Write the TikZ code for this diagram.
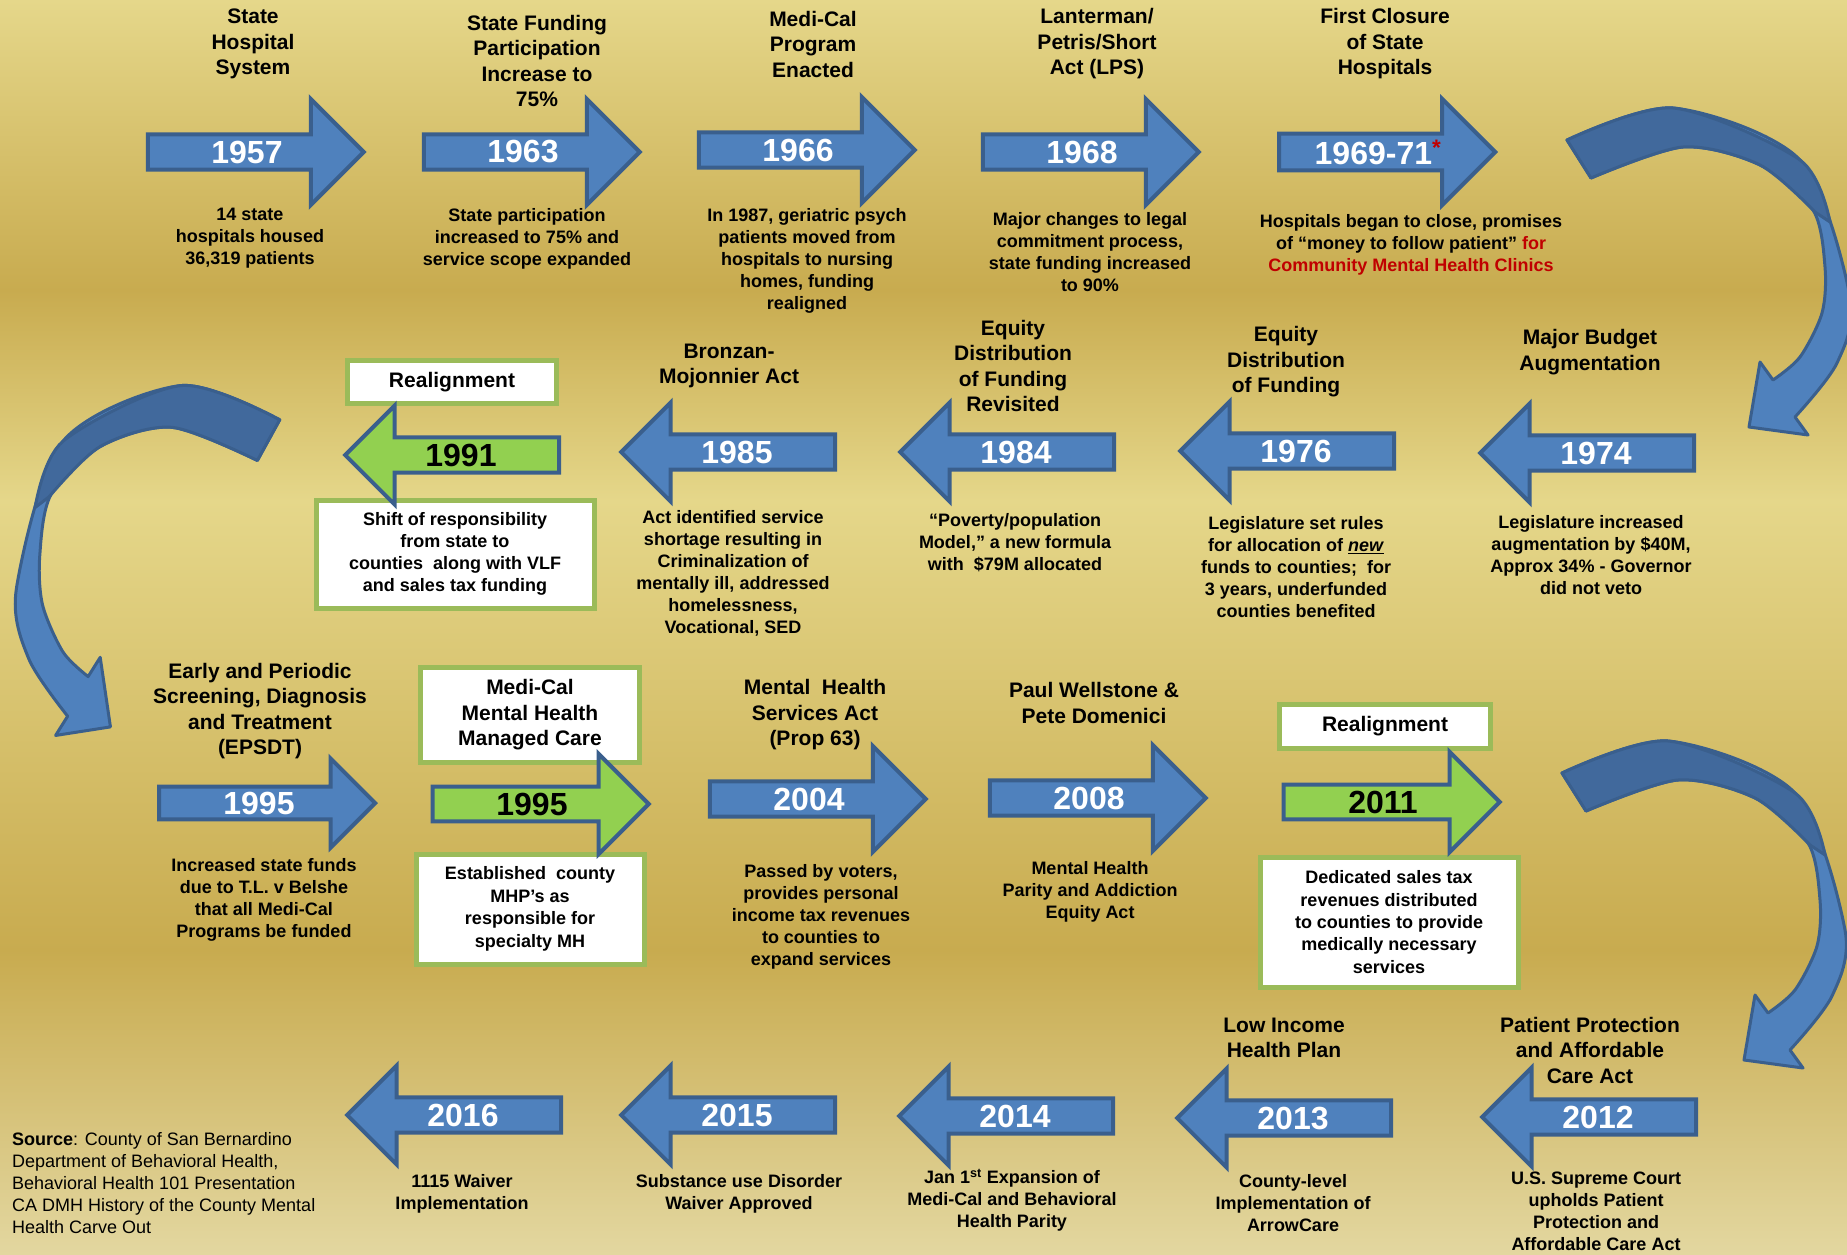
\documentclass[tikz,border=0pt]{standalone}
\usepackage{fontspec}
\setmainfont{Liberation Sans}
\usetikzlibrary{shapes.arrows}

\definecolor{bglight}{HTML}{E5D78A}
\definecolor{bgdark}{HTML}{C8AB4F}
\definecolor{bgfoot}{HTML}{E3D7A0}
\definecolor{arrowblue}{HTML}{4F81BD}
\definecolor{arrowdark}{HTML}{41699C}
\definecolor{arrowline}{HTML}{3A5F8D}
\definecolor{arrowgreen}{HTML}{92D050}
\definecolor{boxline}{HTML}{9BBB59}
\definecolor{notered}{HTML}{C00000}

\tikzset{
  yr/.style={single arrow, single arrow tip angle=90, single arrow head indent=0pt,
    inner sep=0pt, minimum height=216pt, minimum width=106pt,
    single arrow head extend=27pt, draw=arrowline, line width=4pt,
    fill=arrowblue, text=white, font=\fontsize{32}{36}\selectfont\bfseries},
  yrleft/.style={yr, shape border rotate=180, minimum height=214pt,
    minimum width=99pt, single arrow head extend=24pt},
  grn/.style={fill=arrowgreen, text=black},
  ttl/.style={align=center, inner sep=0pt, font=\fontsize{21}{25.5}\selectfont\bfseries},
  dsc/.style={align=center, inner sep=0pt, font=\fontsize{18}{22}\selectfont\bfseries},
  gbox/.style={draw=boxline, line width=5pt, fill=white, inner sep=0pt, align=center},
  loopband/.style={draw=arrowline, line width=3pt, fill=arrowblue, line join=round},
  loopback/.style={loopband, fill=arrowdark},
  pics/turnarrow/.style={code={
    \filldraw[loopband] plot[smooth] coordinates {(1567,140) (1673,108) (1800,160) (1850,297) (1837,363) (1795,417)}
      -- (1808,435) -- (1749,427) -- (1760,362) -- (1773,380)
      -- plot[smooth] coordinates {(1773,380) (1800,357) (1822,313) (1825,267) (1813,210) (1760,165) (1683,147) (1591,178)} -- cycle;
    \filldraw[loopback] plot[smooth] coordinates {(1567,140) (1673,108) (1800,160) (1830,222)}
      -- plot[smooth] coordinates {(1815,212) (1760,165) (1683,147) (1591,178)} -- cycle;
  }},
}

\begin{document}
\begin{tikzpicture}[x=1pt, y=-1pt]
  \useasboundingbox (0,0) rectangle (1847,1255);
  \clip (0,0) rectangle (1847,1255);

  % background bands
  \shade[top color=bglight, bottom color=bgdark] (0,0) rectangle (1847,291);
  \shade[top color=bgdark, bottom color=bglight] (0,290) rectangle (1847,501);
  \shade[top color=bglight, bottom color=bgdark] (0,500) rectangle (1847,951);
  \shade[top color=bgdark, bottom color=bgfoot] (0,950) rectangle (1847,1255);

  % turns between the rows
  \pic at (0,0) {turnarrow};
  \pic[shift={(1737,270)}, xscale=-0.93, yscale=1.07] at (0,0) {turnarrow};
  \pic[shift={(-5,633)}] at (0,0) {turnarrow};

  % row 1
  \node[yr] (a1957) at (247,152) {1957};
  \node[yr] (a1963) at (523,152) {1963};
  \node[yr] (a1966) at (798,150) {1966};
  \node[yr] (a1968) at (1082,152) {1968};
  \node[yr] (a1969) at (1378,152) {1969-71\textsuperscript{\textcolor{notered}{*}}};

  \node[ttl] (t1957) at (253,44) {State\\Hospital\\System};
  \node[ttl] (t1963) at (537,61) {State Funding\\Participation\\Increase to\\75\%};
  \node[ttl] (t1966) at (813,44) {Medi-Cal\\Program\\Enacted};
  \node[ttl] (t1968) at (1097,44) {Lanterman/\\Petris/Short\\Act (LPS)};
  \node[ttl] (t1969) at (1385,44) {First Closure\\of State\\Hospitals};

  \node[dsc] (d1957) at (250,238) {14 state\\hospitals housed\\36,319 patients};
  \node[dsc] (d1963) at (527,239) {State participation\\increased to 75\% and\\service scope expanded};
  \node[dsc] (d1966) at (807,261) {In 1987, geriatric psych\\patients moved from\\hospitals to nursing\\homes, funding\\realigned};
  \node[dsc] (d1968) at (1090,252) {Major changes to legal\\commitment process,\\state funding increased\\to 90\%};
  \node[dsc] (d1969) at (1411,245) {Hospitals began to close, promises\\of “money to follow patient” \textcolor{notered}{for}\\\textcolor{notered}{Community Mental Health Clinics}};

  % row 2
  \node[gbox, minimum width=209pt, minimum height=43pt, font=\fontsize{21}{25.5}\selectfont\bfseries] (r1991) at (452,382) {Realignment};
  \node[gbox, minimum width=278pt, minimum height=108pt, font=\fontsize{18}{22}\selectfont\bfseries] (b1991) at (455,554) {Shift of responsibility\\from state to\\counties~ along with VLF\\and sales tax funding};
  \node[yrleft, grn] (a1991) at (461,455) {1991};
  \node[yrleft] (a1985) at (737,452) {1985};
  \node[yrleft] (a1984) at (1016,452) {1984};
  \node[yrleft] (a1976) at (1296,451) {1976};
  \node[yrleft] (a1974) at (1596,453) {1974};

  \node[ttl] (t1985) at (729,366) {Bronzan-\\Mojonnier Act};
  \node[ttl] (t1984) at (1013,366) {Equity\\Distribution\\of Funding\\Revisited};
  \node[ttl] (t1976) at (1286,362) {Equity\\Distribution\\of Funding};
  \node[ttl] (t1974) at (1590,352) {Major Budget\\Augmentation};

  \node[dsc] (d1985) at (733,573) {Act identified service\\shortage resulting in\\Criminalization of\\mentally ill, addressed\\homelessness,\\Vocational, SED};
  \node[dsc] (d1984) at (1015,543) {“Poverty/population\\Model,” a new formula\\with~ \$79M allocated};
  \node[dsc] (d1976) at (1296,567) {Legislature set rules\\for allocation of \underline{\textit{new}}\\funds to counties;~ for\\3 years, underfunded\\counties benefited};
  \node[dsc] (d1974) at (1591,555) {Legislature increased\\augmentation by \$40M,\\Approx 34\% - Governor\\did not veto};

  % row 3
  \node[gbox, minimum width=219pt, minimum height=95pt, font=\fontsize{21}{25.5}\selectfont\bfseries] (m1995) at (530,715) {Medi-Cal\\Mental Health\\Managed Care};
  \node[gbox, minimum width=228pt, minimum height=110pt, font=\fontsize{18}{22.5}\selectfont\bfseries] (b1995) at (530,909) {Established~ county\\MHP’s as\\responsible for\\specialty MH};
  \node[gbox, minimum width=211pt, minimum height=44pt, font=\fontsize{21}{25.5}\selectfont\bfseries] (r2011) at (1385,726) {Realignment};
  \node[gbox, minimum width=258pt, minimum height=130pt, font=\fontsize{18}{22.3}\selectfont\bfseries] (b2011) at (1389,922) {Dedicated sales tax\\revenues distributed\\to counties to provide\\medically necessary\\services};

  \node[yr, minimum width=89pt, single arrow head extend=23pt] (a1995) at (259,803) {1995};
  \node[yr, grn, minimum width=100pt, single arrow head extend=25pt] (a1995g) at (532,804) {1995};
  \node[yr] (a2004) at (809,799) {2004};
  \node[yr] (a2008) at (1089,798) {2008};
  \node[yr, grn, minimum width=100pt, single arrow head extend=25pt] (a2011) at (1383,802) {2011};

  \node[ttl] (t1995) at (260,711) {Early and Periodic\\Screening, Diagnosis\\and Treatment\\(EPSDT)};
  \node[ttl] (t2004) at (815,715) {Mental~ Health\\Services Act\\(Prop 63)};
  \node[ttl] (t2008) at (1094,703) {Paul Wellstone \&\\Pete Domenici};

  \node[dsc] (d1995) at (264,900) {Increased state funds\\due to T.L. v Belshe\\that all Medi-Cal\\Programs be funded};
  \node[dsc] (d2004) at (821,917) {Passed by voters,\\provides personal\\income tax revenues\\to counties to\\expand services};
  \node[dsc] (d2008) at (1090,892) {Mental Health\\Parity and Addiction\\Equity Act};

  % row 4
  \node[yrleft] (a2016) at (463,1115) {2016};
  \node[yrleft] (a2015) at (737,1115) {2015};
  \node[yrleft] (a2014) at (1015,1116) {2014};
  \node[yrleft] (a2013) at (1293,1118) {2013};
  \node[yrleft] (a2012) at (1598,1117) {2012};

  \node[ttl] (t2013) at (1284,1038) {Low Income\\Health Plan};
  \node[ttl] (t2012) at (1590,1050) {Patient Protection\\and Affordable\\Care Act};

  \node[dsc] (d2016) at (462,1194) {1115 Waiver\\Implementation};
  \node[dsc] (d2015) at (739,1194) {Substance use Disorder\\Waiver Approved};
  \node[dsc] (d2014) at (1012,1200) {Jan 1\textsuperscript{st} Expansion of\\Medi-Cal and Behavioral\\Health Parity};
  \node[dsc] (d2013) at (1293,1203) {County-level\\Implementation of\\ArrowCare};
  \node[dsc] (d2012) at (1596,1211) {U.S. Supreme Court\\upholds Patient\\Protection and\\Affordable Care Act};

  \node[anchor=west, align=left, inner sep=0pt, font=\fontsize{18}{22}\selectfont] (src) at (12,1183) {\textbf{Source}: County of San Bernardino\\Department of Behavioral Health,\\Behavioral Health 101 Presentation\\CA DMH History of the County Mental\\Health Carve Out};
\end{tikzpicture}
\end{document}
